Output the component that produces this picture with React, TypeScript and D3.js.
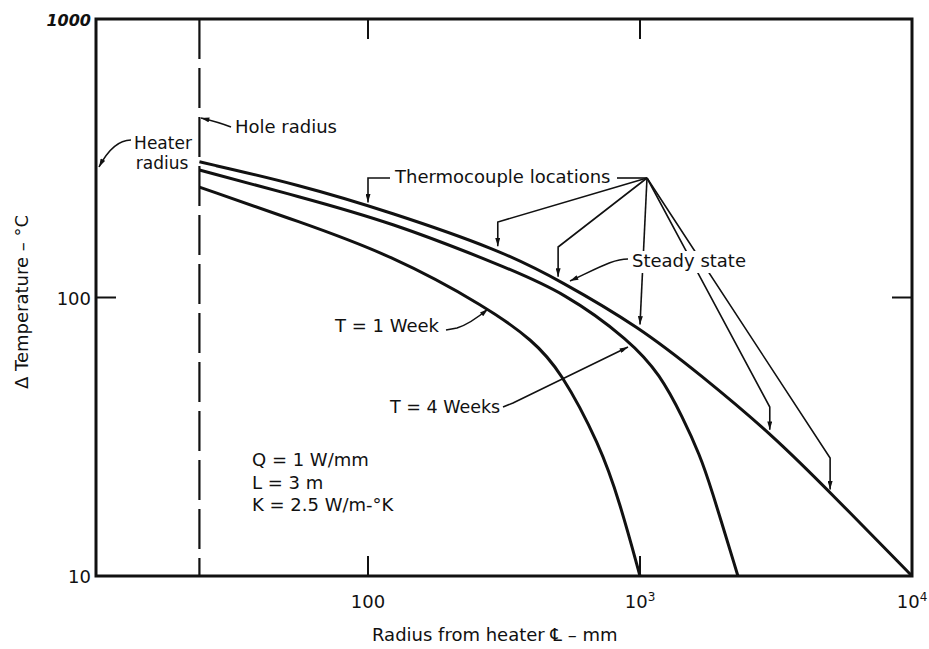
import React from "react";
import * as d3 from "d3";

// ---- data ----
const radiusSteady = [24, 56, 120, 306, 508, 1000, 1660, 3080, 5120, 10000];
const tempSteady = [307, 254, 203, 148, 115, 78, 53, 32, 19.5, 10];

const radius4Weeks = [24, 56, 120, 306, 530, 919, 1184, 1439, 1663, 1808, 2291];
const temp4Weeks = [287, 230, 187, 131, 104, 70, 53, 37, 27, 21.4, 10];

const radius1Week = [24, 56, 120, 276, 404, 508, 713, 844, 1000];
const temp1Week = [249, 187, 143, 92, 70, 55, 29.5, 18.3, 10];

const holeRadius = 24;
const thermocoupleRadii = [100, 300, 500, 1000, 3000, 5000];

const yTickValues = [10, 100, 1000];
const yTickLabels = ["10", "100", "1000"];
const xTickValues = [100, 1000, 10000];
const xTickBase = ["100", "10", "10"];
const xTickSup = ["", "3", "4"];

const notes = ["Q = 1 W/mm", "L = 3 m", "K = 2.5 W/m-°K"];

const W = 929;
const H = 649;
const FONT = "'DejaVu Sans', 'Liberation Sans', Arial, sans-serif";

function interpLog(rs: number[], ts: number[], r: number) {
  const lr = Math.log10(r);
  for (let i = 0; i < rs.length - 1; i++) {
    const a = Math.log10(rs[i]);
    const b = Math.log10(rs[i + 1]);
    if (lr >= a && lr <= b) {
      const t = (lr - a) / (b - a);
      return Math.pow(10, Math.log10(ts[i]) + t * (Math.log10(ts[i + 1]) - Math.log10(ts[i])));
    }
  }
  return ts[ts.length - 1];
}

export default function App() {
  const x = d3.scaleLog().domain([10, 10000]).range([96, 912]);
  const y = d3.scaleLog().domain([10, 1000]).range([576, 19]);

  const line = d3
    .line<[number, number]>()
    .x((d) => x(d[0]))
    .y((d) => y(d[1]))
    .curve(d3.curveBasis);

  const zip = (a: number[], b: number[]) => a.map((v, i) => [v, b[i]] as [number, number]);

  const series = [
    zip(radiusSteady, tempSteady),
    zip(radius4Weeks, temp4Weeks),
    zip(radius1Week, temp1Week),
  ];

  const left = x(10);
  const right = x(10000);
  const top = y(1000);
  const bottom = y(10);
  const tick = 20;

  // thermocouple arrow tips on steady state curve
  const tips = thermocoupleRadii.map((r) => [x(r), y(interpLog(radiusSteady, tempSteady, r)) - 3]);
  const hub: [number, number] = [647, 178];
  const bends = [null, 222, 247, null, 407, 458];

  const tcPaths = tips.map((t, i) => {
    if (i === 0) return `M390,178 L${t[0]},178 L${t[0]},${t[1]}`;
    const b = bends[i];
    if (b === null) return `M${hub[0]},${hub[1]} L${t[0]},${t[1]}`;
    return `M${hub[0]},${hub[1]} L${t[0]},${b} L${t[0]},${t[1]}`;
  });

  const textStyle: React.CSSProperties = { fontFamily: FONT, fontSize: 18, fill: "#111" };

  return (
    <svg
      width={W}
      height={H}
      viewBox={`0 0 ${W} ${H}`}
      style={{ position: "absolute", left: 0, top: 0, background: "#fff" }}
    >
      <defs>
        <marker
          id="arr"
          viewBox="0 0 10 6"
          refX="10"
          refY="3"
          markerWidth="10"
          markerHeight="5"
          orient="auto"
          markerUnits="userSpaceOnUse"
        >
          <path d="M0,0 L10,3 L0,6 z" fill="#111" />
        </marker>
      </defs>
      <rect x={0} y={0} width={W} height={H} fill="#fff" />

      {/* hole radius dashed line */}
      <line
        x1={x(holeRadius)}
        x2={x(holeRadius)}
        y1={top}
        y2={bottom}
        stroke="#111"
        strokeWidth={2.2}
        strokeDasharray="40,9"
      />

      {/* curves */}
      {series.map((s, i) => (
        <path key={i} d={line(s) || ""} fill="none" stroke="#111" strokeWidth={3} strokeLinejoin="round" />
      ))}

      {/* frame */}
      <rect x={left} y={top} width={right - left} height={bottom - top} fill="none" stroke="#111" strokeWidth={3} />

      {/* ticks */}
      {xTickValues
        .filter((v) => v < 10000)
        .map((v) => (
          <g key={"xt" + v}>
            <line x1={x(v)} x2={x(v)} y1={bottom} y2={bottom - tick} stroke="#111" strokeWidth={2} />
            <line x1={x(v)} x2={x(v)} y1={top} y2={top + tick} stroke="#111" strokeWidth={2} />
          </g>
        ))}
      {yTickValues
        .filter((v) => v > 10 && v < 1000)
        .map((v) => (
          <g key={"yt" + v}>
            <line x1={left} x2={left + tick} y1={y(v)} y2={y(v)} stroke="#111" strokeWidth={2} />
            <line x1={right} x2={right - tick} y1={y(v)} y2={y(v)} stroke="#111" strokeWidth={2} />
          </g>
        ))}

      {/* y tick labels */}
      {yTickValues.map((v, i) => (
        <text
          key={"yl" + v}
          x={left - 5}
          y={y(v) + 7}
          textAnchor="end"
          style={
            v === 1000
              ? { ...textStyle, fontSize: 16, fontStyle: "italic", fontWeight: 700 }
              : textStyle
          }
        >
          {yTickLabels[i]}
        </text>
      ))}

      {/* x tick labels */}
      {xTickValues.map((v, i) => (
        <text key={"xl" + v} x={x(v)} y={608} textAnchor="middle" style={textStyle}>
          {xTickBase[i]}
          {xTickSup[i] && (
            <tspan dy={-7} style={{ fontSize: 12 }}>
              {xTickSup[i]}
            </tspan>
          )}
        </text>
      ))}

      {/* axis titles */}
      <text x={372} y={641} style={textStyle}>
        Radius from heater ℄ – mm
      </text>
      <text transform="translate(28,302) rotate(-90)" textAnchor="middle" style={textStyle}>
        Δ Temperature – °C
      </text>

      {/* thermocouple leaders */}
      {tcPaths.map((d, i) => (
        <path key={"tc" + i} d={d} fill="none" stroke="#111" strokeWidth={1.6} markerEnd="url(#arr)" />
      ))}
      <line x1={617} x2={hub[0]} y1={178} y2={178} stroke="#111" strokeWidth={1.6} />
      <text x={395} y={183} style={textStyle}>
        Thermocouple locations
      </text>

      {/* steady state label */}
      <rect x={630} y={251} width={112} height={22} fill="#fff" />
      <text x={632} y={267} style={textStyle}>
        Steady state
      </text>
      <path d="M628,259 C614,259 602,266 570,281" fill="none" stroke="#111" strokeWidth={1.6} markerEnd="url(#arr)" />

      {/* 1 week */}
      <text x={335} y={332} style={textStyle}>
        T = 1 Week
      </text>
      <path d="M446,330 L457,328 Q470,324 488,309" fill="none" stroke="#111" strokeWidth={1.6} markerEnd="url(#arr)" />

      {/* 4 weeks */}
      <text x={390} y={413} style={{ ...textStyle, fontSize: 17.5 }}>
        T = 4 Weeks
      </text>
      <path d="M503,407 L513,403 L628,347" fill="none" stroke="#111" strokeWidth={1.6} markerEnd="url(#arr)" />

      {/* hole radius */}
      <text x={235} y={133} style={textStyle}>
        Hole radius
      </text>
      <path d="M231,127 Q218,122 201,118" fill="none" stroke="#111" strokeWidth={1.6} markerEnd="url(#arr)" />

      {/* heater radius */}
      <text x={163} y={148.5} textAnchor="middle" style={{ ...textStyle, fontSize: 17 }}>
        Heater
      </text>
      <text x={162} y={168.5} textAnchor="middle" style={{ ...textStyle, fontSize: 17 }}>
        radius
      </text>
      <path d="M131,140 C118,140 108,150 99,167" fill="none" stroke="#111" strokeWidth={1.6} markerEnd="url(#arr)" />

      {/* notes */}
      {notes.map((n, i) => (
        <text key={"n" + i} x={252} y={466 + i * 22.5} style={textStyle}>
          {n}
        </text>
      ))}
    </svg>
  );
}
